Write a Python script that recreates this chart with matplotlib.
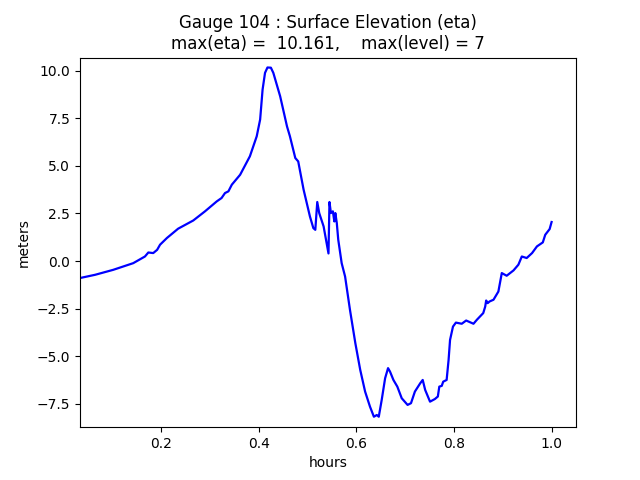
import matplotlib
matplotlib.use("Agg")
import matplotlib.pyplot as plt
import numpy as np

# gauge 104 time series
hours = [0.034, 0.065, 0.102, 0.143, 0.167, 0.174, 0.184, 0.192, 0.198, 0.212,
         0.235, 0.266, 0.290, 0.314, 0.324, 0.331, 0.338, 0.345, 0.362, 0.382,
         0.396, 0.403, 0.408, 0.413, 0.418, 0.425, 0.430, 0.444, 0.458, 0.464,
         0.475, 0.481, 0.492, 0.505, 0.512, 0.516, 0.520, 0.524, 0.533, 0.543,
         0.545, 0.548, 0.552, 0.555, 0.557, 0.560, 0.563, 0.570, 0.577, 0.587,
         0.598, 0.608, 0.618, 0.628, 0.636, 0.642, 0.646, 0.652, 0.659, 0.665,
         0.669, 0.676, 0.684, 0.693, 0.705, 0.712, 0.720, 0.731, 0.736, 0.741,
         0.751, 0.761, 0.767, 0.770, 0.775, 0.778, 0.785, 0.789, 0.792, 0.798,
         0.804, 0.816, 0.825, 0.840, 0.847, 0.860, 0.864, 0.866, 0.869, 0.873,
         0.881, 0.891, 0.898, 0.908, 0.922, 0.932, 0.939, 0.949, 0.960, 0.970,
         0.982, 0.987, 0.996, 1.000]
eta = [-0.89, -0.72, -0.46, -0.11, 0.24, 0.45, 0.42, 0.59, 0.86, 1.21,
       1.70, 2.13, 2.61, 3.13, 3.31, 3.57, 3.66, 4.01, 4.53, 5.50,
       6.55, 7.43, 9.00, 9.88, 10.161, 10.15, 9.88, 8.65, 7.07, 6.55,
       5.41, 5.23, 3.75, 2.34, 1.73, 1.64, 3.10, 2.52, 1.82, 0.40,
       3.10, 2.52, 2.61, 2.08, 2.52, 2.00, 1.12, -0.11, -0.81, -2.56,
       -4.31, -5.71, -6.85, -7.64, -8.17, -8.08, -8.17, -7.29, -6.15, -5.62,
       -5.80, -6.24, -6.59, -7.20, -7.55, -7.46, -6.85, -6.41, -6.24, -6.76,
       -7.38, -7.24, -7.11, -6.59, -6.55, -6.33, -6.24, -5.19, -4.14, -3.44,
       -3.23, -3.29, -3.12, -3.29, -3.08, -2.73, -2.39, -2.07, -2.21, -2.12,
       -2.03, -1.60, -0.63, -0.77, -0.49, -0.19, 0.24, 0.16, 0.42, 0.77,
       0.98, 1.38, 1.68, 2.05]

gaugeno = 104
maxlevel = 7

fig = plt.figure(figsize=(6.4, 4.8), dpi=100)
ax = fig.add_subplot(111)
ax.plot(hours, eta, 'b-', linewidth=1.6)
ax.set_xlim(0.034, 1.05)
ax.set_ylim(-8.72, 10.68)
ax.set_xticks([0.2, 0.4, 0.6, 0.8, 1.0])
ax.set_xlabel('hours')
ax.set_ylabel('meters')
ax.set_title('Gauge %i : Surface Elevation (eta)\nmax(eta) = %7.3f,    max(level) = %i'
             % (gaugeno, max(eta), maxlevel))
fig.savefig('out.png')
